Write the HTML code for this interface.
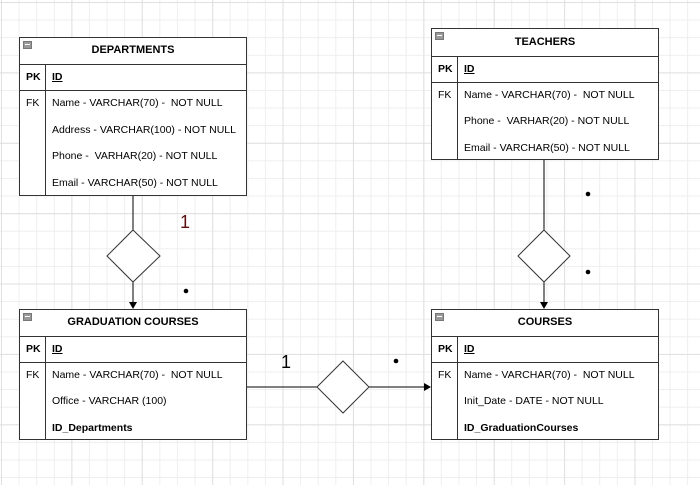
<!DOCTYPE html>
<html><head><style>
body{margin:0;width:700px;height:485px;overflow:hidden;background:#fff;font-family:"Liberation Sans",Arial,sans-serif;}
#g{position:absolute;left:0;top:0;width:700px;height:485px;
background-image:linear-gradient(to right,#e0e0e0 1px,transparent 1px),linear-gradient(to bottom,#e0e0e0 1px,transparent 1px),linear-gradient(to right,#eeeeee 1px,transparent 1px),linear-gradient(to bottom,#eeeeee 1px,transparent 1px);
background-size:70.4px 70.4px,70.4px 70.4px,17.6px 17.6px,17.6px 17.6px;background-position:1px 2px;}
.t{position:absolute;border:1px solid #333;background:#fff;box-sizing:border-box;font-size:10.5px;color:#000;}
.h{position:absolute;left:0;right:0;top:0;border-bottom:1px solid #333;text-align:center;font-weight:bold;font-size:11px;}
.m{position:absolute;left:3px;top:3px;width:7px;height:6px;background:#999;border:1px solid #777;}
.m:after{content:"";position:absolute;left:1px;top:2px;width:5px;height:1px;background:#fff;}
.pk{position:absolute;left:0;right:0;border-bottom:1px solid #333;}
.v{position:absolute;left:25px;bottom:0;border-left:1px solid #333;}
.c{position:absolute;white-space:pre;}
</style></head><body>
<div id="g"></div>
<svg style="position:absolute;left:0;top:0" width="700" height="485">
<g stroke="#000" fill="none" stroke-width="1">
<line x1="133" y1="195" x2="133" y2="303"/>
<line x1="544" y1="159" x2="544" y2="303"/>
<line x1="246" y1="387" x2="425" y2="387"/>
</g>
<g fill="#000">
<polygon points="129,302 137,302 133,309"/>
<polygon points="540,302 548,302 544,309"/>
<polygon points="424,383 424,391 431,387"/>
<circle cx="186" cy="291" r="2.3"/><circle cx="588" cy="194" r="2.3"/><circle cx="588" cy="272" r="2.3"/><circle cx="396" cy="361" r="2.3"/>
</g>
<g fill="#fff" stroke="#333">
<polygon points="133,230 160,256 133,282 107,256"/>
<polygon points="544,230 570,256 544,282 518,256"/>
<polygon points="343,361 369,387 343,413 317,387"/>
</g>
<text x="180" y="228" font-family="Liberation Sans" font-size="18" fill="#5a1010">1</text>
<text x="281" y="368" font-family="Liberation Sans" font-size="18" fill="#000">1</text>
</svg>

<div class="t" style="left:19px;top:37px;width:228px;height:159px">
<div class="h" style="height:26px;line-height:25px">DEPARTMENTS</div><div class="m"></div>
<div class="pk" style="top:26px;height:26px"></div>
<div class="v" style="top:26px"></div>
<div class="c" style="left:6px;top:33px;font-weight:bold">PK</div>
<div class="c" style="left:32px;top:33px;font-weight:bold;text-decoration:underline">ID</div>
<div class="c" style="left:6px;top:59px">FK</div>
<div class="c" style="left:32px;top:59px">Name - VARCHAR(70) -  NOT NULL</div>
<div class="c" style="left:32px;top:86px">Address - VARCHAR(100) - NOT NULL</div>
<div class="c" style="left:32px;top:112px">Phone -  VARHAR(20) - NOT NULL</div>
<div class="c" style="left:32px;top:139px">Email - VARCHAR(50) - NOT NULL</div>
</div>

<div class="t" style="left:431px;top:28px;width:228px;height:132px">
<div class="h" style="height:27px;line-height:26px">TEACHERS</div><div class="m"></div>
<div class="pk" style="top:27px;height:26px"></div>
<div class="v" style="top:27px"></div>
<div class="c" style="left:6px;top:34px;font-weight:bold">PK</div>
<div class="c" style="left:32px;top:34px;font-weight:bold;text-decoration:underline">ID</div>
<div class="c" style="left:6px;top:60px">FK</div>
<div class="c" style="left:32px;top:60px">Name - VARCHAR(70) -  NOT NULL</div>
<div class="c" style="left:32px;top:86px">Phone -  VARHAR(20) - NOT NULL</div>
<div class="c" style="left:32px;top:113px">Email - VARCHAR(50) - NOT NULL</div>
</div>

<div class="t" style="left:19px;top:309px;width:228px;height:131px">
<div class="h" style="height:26px;line-height:25px">GRADUATION COURSES</div><div class="m"></div>
<div class="pk" style="top:26px;height:26px"></div>
<div class="v" style="top:26px"></div>
<div class="c" style="left:6px;top:33px;font-weight:bold">PK</div>
<div class="c" style="left:32px;top:33px;font-weight:bold;text-decoration:underline">ID</div>
<div class="c" style="left:6px;top:59px">FK</div>
<div class="c" style="left:32px;top:59px">Name - VARCHAR(70) -  NOT NULL</div>
<div class="c" style="left:32px;top:85px">Office - VARCHAR (100)</div>
<div class="c" style="left:32px;top:112px;font-weight:bold">ID_Departments</div>
</div>

<div class="t" style="left:431px;top:309px;width:228px;height:131px">
<div class="h" style="height:26px;line-height:25px">COURSES</div><div class="m"></div>
<div class="pk" style="top:26px;height:26px"></div>
<div class="v" style="top:26px"></div>
<div class="c" style="left:6px;top:33px;font-weight:bold">PK</div>
<div class="c" style="left:32px;top:33px;font-weight:bold;text-decoration:underline">ID</div>
<div class="c" style="left:6px;top:59px">FK</div>
<div class="c" style="left:32px;top:59px">Name - VARCHAR(70) -  NOT NULL</div>
<div class="c" style="left:32px;top:85px">Init_Date - DATE - NOT NULL</div>
<div class="c" style="left:32px;top:112px;font-weight:bold">ID_GraduationCourses</div>
</div>
</body></html>
